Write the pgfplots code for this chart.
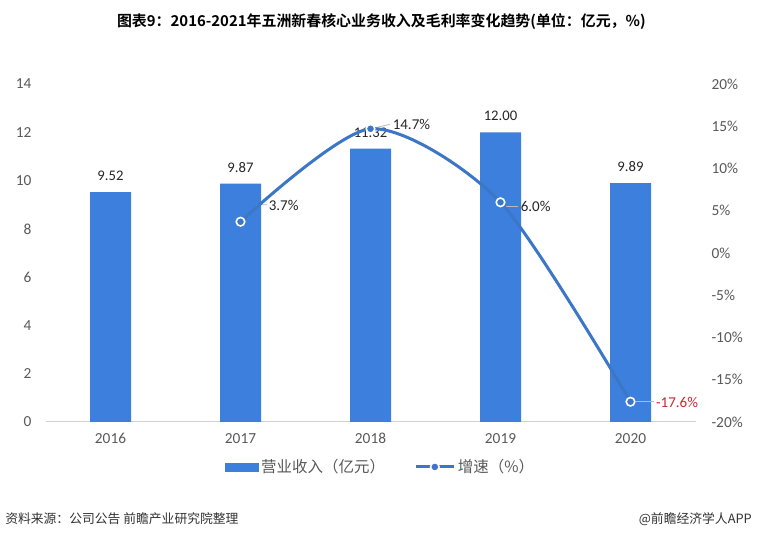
\documentclass[border=0pt]{standalone}
\usepackage{fontspec}
\setmainfont{Carlito}
\newfontfamily\cjk{Noto Sans CJK SC}
\newfontfamily\cjkbold{Noto Sans CJK SC Bold}
\usepackage{pgfplots}
\pgfplotsset{compat=1.18}
\definecolor{barblue}{RGB}{61,127,220}
\definecolor{linecol}{RGB}{59,118,199}
\definecolor{tickgray}{RGB}{89,89,89}
\definecolor{labred}{RGB}{200,40,50}
\definecolor{labdark}{RGB}{38,38,38}
\begin{document}
\begin{tikzpicture}
\fill[white] (0,0) rectangle (567.75pt,404.25pt);
\useasboundingbox (0,0) rectangle (567.75pt,404.25pt);
% title
\node[font=\cjkbold\fontsize{11.2}{13}\selectfont, text=black] at (286pt,387.75pt) {图表9：2016-2021年五洲新春核心业务收入及毛利率变化趋势(单位：亿元，\%)};
% source
\node[anchor=west, font=\cjk\fontsize{9.6}{11}\selectfont, text=black!80, inner sep=0] at (3.75pt,15pt) {资料来源：公司公告 前瞻产业研究院整理};
\node[anchor=east, font=\cjk\fontsize{9.6}{11}\selectfont, text=black!80, inner sep=0] at (564pt,15pt) {@前瞻经济学人APP};

\begin{axis}[
  at={(34.125pt,87.75pt)}, anchor=south west,
  width=487.5pt, height=253.5pt, scale only axis,
  xmin=-0.5, xmax=4.5, ymin=0, ymax=14,
  xtick={0,1,2,3,4}, xticklabels={2016,2017,2018,2019,2020},
  ytick={0,2,4,6,8,10,12,14},
  xtick pos=bottom, ytick pos=left,
  major tick length=0pt,
  axis line style={draw=none},
  /pgf/number format/assume math mode=true,
  tick label style={font=\fontsize{11.5}{13}\selectfont, text=tickgray},
  yticklabel style={anchor=east, xshift=-7pt},
  xticklabel style={anchor=north, yshift=-5pt},
  clip=false,
]
\draw[gray!35, line width=0.75pt] (axis cs:-0.5,0) -- (axis cs:4.5,0);
\addplot[ybar, bar width=30.75pt, fill=barblue, draw=none,
  nodes near coords,
  nodes near coords style={font=\fontsize{11}{13}\selectfont, text=labdark, anchor=south, yshift=5pt,
    /pgf/number format/.cd, fixed, fixed zerofill, precision=2, assume math mode=true},
] coordinates {(0,9.52) (1,9.87) (2,11.32) (3,12.00) (4,9.89)};
\end{axis}

\begin{axis}[
  at={(34.125pt,87.75pt)}, anchor=south west,
  width=487.5pt, height=253.5pt, scale only axis,
  xmin=-0.5, xmax=4.5, ymin=-20, ymax=20,
  xtick=\empty,
  ytick={-20,-15,-10,-5,0,5,10,15,20},
  ytick pos=right,
  major tick length=0pt,
  axis line style={draw=none},
  /pgf/number format/assume math mode=true,
  yticklabel={\pgfmathprintnumber{\tick}\%},
  tick label style={font=\fontsize{11.5}{13}\selectfont, text=tickgray},
  yticklabel style={anchor=west, xshift=8.5pt},
  clip=false,
  legend style={at={(0.516,-0.133)}, anchor=center, draw=none, fill=none,
    font=\cjk\fontsize{11.6}{13}\selectfont, text=tickgray, legend columns=2,
    /tikz/every even column/.append style={column sep=20pt}},
]
\addlegendimage{legend image code/.code={\fill[barblue] (0pt,-3pt) rectangle (24.75pt,3pt);}}
\addlegendentry{营业收入（亿元）}
% leaders
\draw[gray!55, line width=0.6pt] (axis cs:1,3.7) ++(2.8pt,2.8pt) -- ++(10.2pt,9.95pt) -- ++(7pt,0pt);
\draw[gray!55, line width=0.6pt] (axis cs:2,14.7) ++(3.6pt,0.8pt) -- ++(10.7pt,2.5pt);
\draw[gray!55, line width=0.6pt] (axis cs:3,6.0) ++(3.75pt,-3pt) -- ++(9.5pt,0pt);
\draw[gray!55, line width=0.6pt] (axis cs:4,-17.6) ++(3.75pt,0pt) -- ++(14pt,0pt);
\addplot[linecol, line width=2.25pt, smooth, tension=0.45,
  mark=*, mark size=3.2pt, mark options={fill=linecol, draw=white, line width=1.2pt, solid},
  legend image code/.code={\draw[linecol, line width=2.25pt] (0pt,0pt) -- (28.5pt,0pt);
    \draw[white, fill=linecol, line width=1.2pt] (14.25pt,0pt) circle (3.2pt);},
] coordinates {(1,3.7) (2,14.7) (3,6.0) (4,-17.6)};
\addlegendentry{增速（\%）}
\node[anchor=west, inner sep=0, xshift=21pt, yshift=12pt, font=\fontsize{11.25}{13}\selectfont, text=labdark] at (axis cs:1,3.7) {3.7\%};
\node[anchor=west, inner sep=0, xshift=16.5pt, yshift=3pt, font=\fontsize{11.25}{13}\selectfont, text=labdark] at (axis cs:2,14.7) {14.7\%};
\node[anchor=west, inner sep=0, xshift=15pt, yshift=-3.3pt, font=\fontsize{11.25}{13}\selectfont, text=labdark] at (axis cs:3,6.0) {6.0\%};
\node[anchor=west, inner sep=0, xshift=19pt, yshift=-0.75pt, font=\fontsize{11.25}{13}\selectfont, text=labred] at (axis cs:4,-17.6) {-17.6\%};
\end{axis}
\end{tikzpicture}
\end{document}
